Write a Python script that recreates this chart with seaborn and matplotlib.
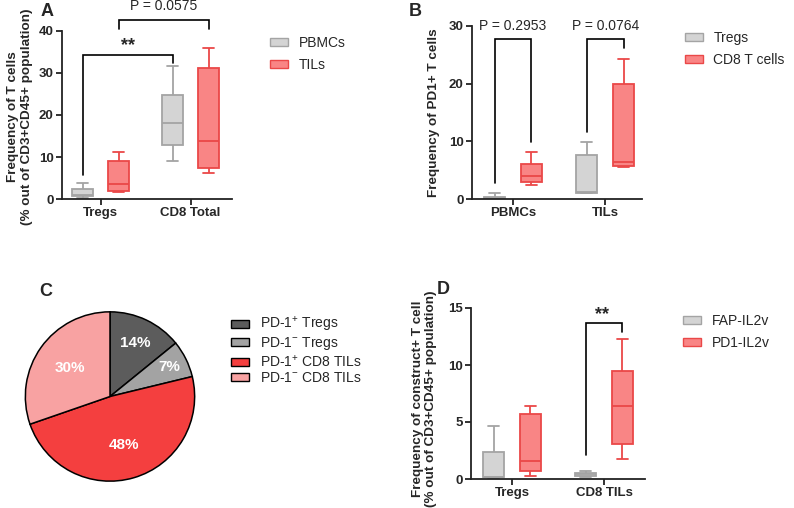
import numpy as np
import pandas as pd
import matplotlib
matplotlib.use("Agg")
import matplotlib.pyplot as plt
from matplotlib.patches import Patch
from matplotlib.colors import to_rgba
import seaborn as sns

# ---------------- data ----------------
A_cats = ["Tregs", "CD8 Total"]
A_groups = ["PBMCs", "TILs"]
A_pbmc_tregs = [0.3, 0.7, 1.0, 2.5, 3.7]
A_tils_tregs = [1.6, 2.0, 3.5, 9.1, 11.1]
A_pbmc_cd8 = [9.1, 12.9, 18.0, 24.8, 31.6]
A_tils_cd8 = [6.3, 7.5, 13.7, 31.1, 36.0]

B_cats = ["PBMCs", "TILs"]
B_groups = ["Tregs", "CD8 T cells"]
B_tregs_pbmc = [0.0, 0.05, 0.1, 0.3, 1.0]
B_cd8_pbmc = [2.4, 2.9, 4.0, 6.1, 8.1]
B_tregs_tils = [1.1, 1.1, 1.2, 7.6, 9.8]
B_cd8_tils = [5.5, 5.7, 6.4, 19.9, 24.3]

C_labels = ["PD-1$^{+}$ Tregs", "PD-1$^{-}$ Tregs", "PD-1$^{+}$ CD8 TILs", "PD-1$^{-}$ CD8 TILs"]
C_values = [14, 7, 48, 30]
C_pct_text = ["14%", "7%", "48%", "30%"]

D_cats = ["Tregs", "CD8 TILs"]
D_groups = ["FAP-IL2v", "PD1-IL2v"]
D_fap_tregs = [0.05, 0.15, 0.2, 2.35, 4.66]
D_pd1_tregs = [0.26, 0.73, 1.58, 5.7, 6.42]
D_fap_cd8 = [0.2, 0.26, 0.4, 0.56, 0.73]
D_pd1_cd8 = [1.79, 3.08, 6.39, 9.5, 12.3]

# ---------------- style ----------------
sns.set_style("ticks")
plt.rcParams["font.family"] = ["Liberation Sans", "DejaVu Sans"]
plt.rcParams["mathtext.fontset"] = "custom"
plt.rcParams["mathtext.rm"] = "Liberation Sans"
plt.rcParams["mathtext.it"] = "Liberation Sans:italic"
plt.rcParams["mathtext.bf"] = "Liberation Sans:bold"

GRAY_FILL, GRAY_EDGE = "#d4d4d4", "#a4a4a4"
RED_FILL, RED_EDGE = "#f98585", "#ea4848"
W, H = 794, 508

fig = plt.figure(figsize=(W / 100, H / 100), dpi=100)


def px_axes(left, top, right, bottom):
    return fig.add_axes([left / W, 1 - bottom / H, (right - left) / W, (bottom - top) / H])


def make_df(table):
    rows = []
    for (c, g), vals in table.items():
        for v in vals:
            rows.append({"cat": c, "group": g, "value": v})
    return pd.DataFrame(rows)


def draw_boxes(ax, df, cats, groups):
    fills = [GRAY_FILL, RED_FILL]
    edges = [GRAY_EDGE, RED_EDGE]
    sns.boxplot(data=df, x="cat", y="value", hue="group", order=cats,
                hue_order=groups, palette=dict(zip(groups, fills)),
                linewidth=1.3, width=0.8, gap=0.42,
                whis=(0, 100), fliersize=0, saturation=1, legend=False, ax=ax)
    # recolour outlines to match each hue
    for p in ax.patches:
        fc = p.get_facecolor()
        is_gray = np.allclose(fc[:3], to_rgba(GRAY_FILL)[:3], atol=0.02)
        p.set_edgecolor(edges[0] if is_gray else edges[1])
    for ln in ax.lines:
        xd = np.asarray(ln.get_xdata(), dtype=float)
        if xd.size == 0:
            continue
        xm = xd.mean()
        off = xm - np.round(xm)
        ln.set_color(edges[0] if off < 0 else edges[1])


def style_axes(ax, ylim, yticks, xlim):
    ax.set_ylim(*ylim)
    ax.set_yticks(yticks)
    ax.set_xlim(*xlim)
    ax.set_xlabel("")
    sns.despine(ax=ax)
    for s in ["left", "bottom"]:
        ax.spines[s].set_linewidth(1.3)
        ax.spines[s].set_color("#222222")
    ax.tick_params(axis="both", length=4, width=1.3, labelsize=9.5, pad=2, color="#222222")
    for lab in ax.get_xticklabels() + ax.get_yticklabels():
        lab.set_fontweight("bold")


def bracket(ax, x1, x2, y_top, y1, y2):
    ax.plot([x1, x1, x2, x2], [y1, y_top, y_top, y2], color="black", lw=1.2,
            clip_on=False, solid_joinstyle="miter", zorder=5)


def legend(handles_labels, x, y, spacing):
    handles = [Patch(facecolor=fc, edgecolor=ec, linewidth=1.0) for fc, ec, _ in handles_labels]
    labels = [l for _, _, l in handles_labels]
    fig.legend(handles, labels, loc="upper left", bbox_to_anchor=(x / W, 1 - y / H),
               frameon=False, fontsize=10, handlelength=1.3, handleheight=0.5,
               handletextpad=0.75, labelspacing=spacing, borderpad=0, borderaxespad=0)


# ---------------- Panel A ----------------
axA = px_axes(62, 31, 232, 199)
dfA = make_df({
    ("Tregs", "PBMCs"): A_pbmc_tregs, ("Tregs", "TILs"): A_tils_tregs,
    ("CD8 Total", "PBMCs"): A_pbmc_cd8, ("CD8 Total", "TILs"): A_tils_cd8})
draw_boxes(axA, dfA, A_cats, A_groups)
style_axes(axA, (0, 40), [0, 10, 20, 30, 40], (-0.43, 1.46))
axA.set_ylabel("Frequency of T cells\n(% out of CD3+CD45+ population)",
               fontsize=9.7, fontweight="bold", linespacing=1.2)
axA.yaxis.set_label_coords(-0.17, 0.49)
bracket(axA, -0.2, 0.8, 34.3, 5.6, 32.3)
axA.text(0.3, 36.6, "**", ha="center", va="center", fontsize=13, fontweight="bold")
bracket(axA, 0.2, 1.2, 42.5, 40.4, 40.4)
axA.text(0.7, 46.0, "P = 0.0575", ha="center", va="center", fontsize=10)
legend([(GRAY_FILL, GRAY_EDGE, "PBMCs"), (RED_FILL, RED_EDGE, "TILs")], 270, 36, 0.55)
fig.text(47 / W, 1 - 12 / H, "A", fontsize=13, fontweight="bold", ha="center", va="center")

# ---------------- Panel B ----------------
axB = px_axes(472, 26, 642, 199)
dfB = make_df({
    ("PBMCs", "Tregs"): B_tregs_pbmc, ("PBMCs", "CD8 T cells"): B_cd8_pbmc,
    ("TILs", "Tregs"): B_tregs_tils, ("TILs", "CD8 T cells"): B_cd8_tils})
draw_boxes(axB, dfB, B_cats, B_groups)
style_axes(axB, (0, 30), [0, 10, 20, 30], (-0.446, 1.40))
axB.set_ylabel("Frequency of PD1+ T cells", fontsize=9.7, fontweight="bold")
axB.yaxis.set_label_coords(-0.188, 0.5)
bracket(axB, -0.2, 0.2, 27.7, 2.8, 9.8)
bracket(axB, 0.8, 1.2, 27.7, 11.6, 26.1)
axB.text(0.0, 30.0, "P = 0.2953", ha="center", va="center", fontsize=10)
axB.text(1.0, 30.0, "P = 0.0764", ha="center", va="center", fontsize=10)
legend([(GRAY_FILL, GRAY_EDGE, "Tregs"), (RED_FILL, RED_EDGE, "CD8 T cells")], 685, 31, 0.6)
fig.text(415 / W, 1 - 11 / H, "B", fontsize=13, fontweight="bold", ha="center", va="center")

# ---------------- Panel C ----------------
axC = px_axes(24, 311, 196, 482)
pie_colors = ["#5c5c5c", "#a3a3a3", "#f43f3f", "#f8a2a2"]
wedges, _ = axC.pie(C_values, colors=pie_colors, startangle=90, counterclock=False,
                    wedgeprops=dict(edgecolor="black", linewidth=1.1))
axC.set_xlim(-1.01, 1.01)
axC.set_ylim(-1.01, 1.01)
axC.set_aspect("equal")
for w in wedges:
    w.set_clip_on(False)
for w, t, d in zip(wedges, C_pct_text, [0.7, 0.78, 0.6, 0.58]):
    ang = np.deg2rad((w.theta1 + w.theta2) / 2)
    axC.text(d * np.cos(ang), d * np.sin(ang), t, color="white", fontsize=11,
             fontweight="bold", ha="center", va="center")
handles = [Patch(facecolor=c, edgecolor="black", linewidth=1.0) for c in pie_colors]
fig.legend(handles, C_labels, loc="upper left", bbox_to_anchor=(231 / W, 1 - 315 / H),
           frameon=False, fontsize=10, handlelength=1.3, handleheight=0.5,
           handletextpad=0.8, labelspacing=0.1, borderpad=0, borderaxespad=0)
fig.text(46 / W, 1 - 292 / H, "C", fontsize=13, fontweight="bold", ha="center", va="center")

# ---------------- Panel D ----------------
axD = px_axes(471, 308, 645, 479)
dfD = make_df({
    ("Tregs", "FAP-IL2v"): D_fap_tregs, ("Tregs", "PD1-IL2v"): D_pd1_tregs,
    ("CD8 TILs", "FAP-IL2v"): D_fap_cd8, ("CD8 TILs", "PD1-IL2v"): D_pd1_cd8})
draw_boxes(axD, dfD, D_cats, D_groups)
style_axes(axD, (0, 15), [0, 5, 10, 15], (-0.446, 1.446))
axD.set_ylabel("Frequency of construct+ T cell\n(% out of CD3+CD45+ population)",
               fontsize=9.7, fontweight="bold", linespacing=1.15)
axD.yaxis.set_label_coords(-0.195, 0.47)
bracket(axD, 0.8, 1.2, 13.7, 2.08, 12.9)
axD.text(0.98, 14.4, "**", ha="center", va="center", fontsize=13, fontweight="bold")
legend([(GRAY_FILL, GRAY_EDGE, "FAP-IL2v"), (RED_FILL, RED_EDGE, "PD1-IL2v")], 683, 314, 0.6)
fig.text(443 / W, 1 - 290 / H, "D", fontsize=13, fontweight="bold", ha="center", va="center")

fig.savefig("out.png", dpi=100)
